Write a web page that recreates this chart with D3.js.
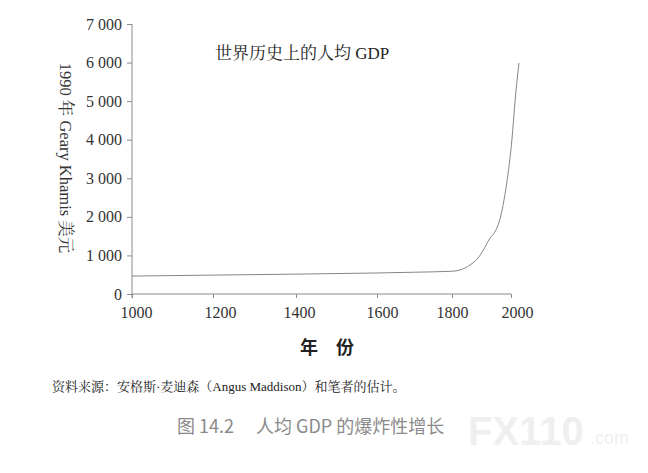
<!DOCTYPE html>
<html>
<head>
<meta charset="utf-8">
<script src="https://cdn.jsdelivr.net/npm/d3@7/dist/d3.min.js"></script>
<style>
  html, body { margin: 0; padding: 0; background: #ffffff; }
  svg { display: block; }
</style>
</head>
<body>
<svg id="chart" width="648" height="473"></svg>
<script>
// ---- data ----
const years = [1000, 1200, 1400, 1600, 1700, 1800, 1827, 1861, 1888, 1912, 1929, 1939, 1950, 1963, 1973, 1986, 2003, 2014, 2027];
const gdpPerCapita = [465, 490, 515, 545, 565, 590, 622, 752, 933, 1218, 1452, 1540, 1680, 1950, 2300, 2900, 3993, 5030, 5989];
const xTicks = [1000, 1200, 1400, 1600, 1800, 2000];
const yTicks = [0, 1000, 2000, 3000, 4000, 5000, 6000, 7000];
const chartTitle = "世界历史上的人均 GDP";
const yTitle = "1990 年 Geary Khamis 美元";
const xTitle = "年\u3000份";
const sourceNote = "资料来源：安格斯·麦迪森（Angus Maddison）和笔者的估计。";
const captionNum = "图 14.2";
const captionText = "人均 GDP 的爆炸性增长";

const svg = d3.select("#chart");
const serif = "'Liberation Serif', 'Times New Roman', 'Noto Serif CJK SC', 'Noto Sans CJK SC', serif";
const sans = "'Noto Sans CJK SC', 'Noto Sans', sans-serif";

// x axis in the reference has uneven tick spacing; reproduce with a piecewise scale
const x = d3.scaleLinear().domain(xTicks).range([132, 213, 296, 377, 452, 511]);
const y = d3.scaleLinear().domain([0, 7000]).range([294, 24]);

const axisColor = "#8a8a8a";

// y axis
const yAxis = svg.append("g").attr("transform", "translate(132,0)")
  .call(d3.axisLeft(y).tickValues(yTicks).tickSize(5).tickPadding(5)
    .tickFormat(d => d3.format(",")(d).replace(",", " ")));
yAxis.select(".domain").attr("stroke", axisColor).attr("d", "M0,24V298");
yAxis.selectAll(".tick line").attr("stroke", axisColor);
yAxis.selectAll(".tick text").attr("font-family", serif).attr("font-size", 16).attr("fill", "#333");

// x axis
const xAxis = svg.append("g").attr("transform", "translate(0,294)")
  .call(d3.axisBottom(x).tickValues(xTicks).tickSize(4).tickPadding(9).tickFormat(d3.format("d")));
xAxis.select(".domain").attr("stroke", axisColor).attr("d", "M132,0H511");
xAxis.selectAll(".tick line").attr("stroke", axisColor);
xAxis.selectAll(".tick text").attr("font-family", serif).attr("font-size", 16).attr("fill", "#333")
  .attr("dx", (d, i) => [4, 7, 3, 5, 0, 6][i]);

// line
const line = d3.line()
  .x((d, i) => x(years[i]))
  .y(d => y(d))
  .curve(d3.curveMonotoneX);
svg.append("path")
  .datum(gdpPerCapita)
  .attr("fill", "none")
  .attr("stroke", "#858585")
  .attr("stroke-width", 1)
  .attr("d", line);

// chart title
svg.append("text").attr("x", 215).attr("y", 59)
  .attr("font-family", serif).attr("font-size", 17).attr("fill", "#222")
  .text(chartTitle);

// y title (rotated clockwise)
svg.append("text")
  .attr("transform", "translate(65,158) rotate(90)")
  .attr("text-anchor", "middle").attr("dominant-baseline", "central")
  .attr("font-family", serif).attr("font-size", 16.5).attr("fill", "#333")
  .text(yTitle);

// x title
svg.append("text").attr("x", 327).attr("y", 354)
  .attr("text-anchor", "middle")
  .attr("font-family", sans).attr("font-size", 18).attr("font-weight", 700).attr("fill", "#222")
  .text(xTitle);

// source note
svg.append("text").attr("x", 52).attr("y", 391)
  .attr("font-family", serif).attr("font-size", 13).attr("fill", "#222")
  .text(sourceNote);

// caption
const cap = svg.append("text").attr("x", 177).attr("y", 433)
  .attr("font-family", sans).attr("font-size", 18).attr("fill", "#8a8a8a");
cap.append("tspan").text(captionNum);
cap.append("tspan").attr("dx", 22).text(captionText);

// faint watermark
const wm = svg.append("g").attr("opacity", 0.45);
wm.append("text").attr("x", 468).attr("y", 445)
  .attr("font-family", "'Liberation Sans', Arial, sans-serif").attr("font-weight", 700)
  .attr("font-size", 40).attr("fill", "#dcdcdc").text("FX110");
wm.append("text").attr("x", 590).attr("y", 444)
  .attr("font-family", "'Liberation Sans', Arial, sans-serif")
  .attr("font-size", 18).attr("fill", "#dcdcdc").text(".com");
</script>
</body>
</html>
